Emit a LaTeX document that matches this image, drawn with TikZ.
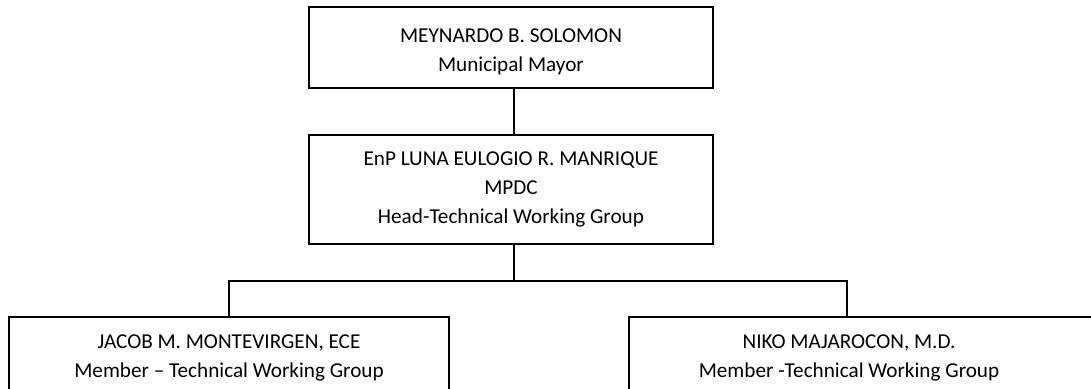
\documentclass[tikz,border=0pt]{standalone}
\usepackage{fontspec}
\setmainfont{Carlito}
\usepackage{tikz}
\usetikzlibrary{positioning}
\tikzset{%
	link/.style = {line width = 0.8pt},
	post/.style = {name = #1, draw, line width = 0.8pt, align = center, inner sep = 0pt,
		font = \fontsize{10.6}{14.5}\selectfont},
	member/.style = {name = #1, align = center, inner sep = 0pt,
		font = \fontsize{10.6}{14.5}\selectfont}
}
\begin{document}
\begin{tikzpicture}[x=0.5pt, y=-0.5pt]
			\useasboundingbox (0,0) rectangle (1091,389);
			\clip (0,0) rectangle (1091,389);
			\node [post = {mayor}, minimum width = 202pt, minimum height = 40.5pt] at (511,47.5)
				{\rule{0pt}{11.5pt}MEYNARDO B. SOLOMON\\Municipal Mayor};
			\node [post = {mpdc}, minimum width = 202pt, minimum height = 54.5pt] at (511,189.5)
				{EnP LUNA EULOGIO R. MANRIQUE\\MPDC\\Head-Technical Working Group};
			\node [post = {jacob}, minimum width = 220pt, minimum height = 40.5pt] at (229,357.5)
				{JACOB M. MONTEVIRGEN, ECE\\Member -- Technical Working Group};
			\node [member = {niko}] at (849,358) {NIKO MAJAROCON, M.D.\\Member -Technical Working Group};
			\draw [link] (629,317) rectangle (1110,398);
			\coordinate (fork) at (511,281);
			\coordinate (nikotop) at (847,317);
			\draw [link] ([xshift=1.5pt]mayor.south) -- ([xshift=1.5pt]mpdc.north);
			\draw [link] ([xshift=1.5pt]mpdc.south) -- ([xshift=1.5pt]fork);
			\draw [link] (jacob.north) |- (fork) -| (nikotop);
			\end{tikzpicture}
\end{document}
